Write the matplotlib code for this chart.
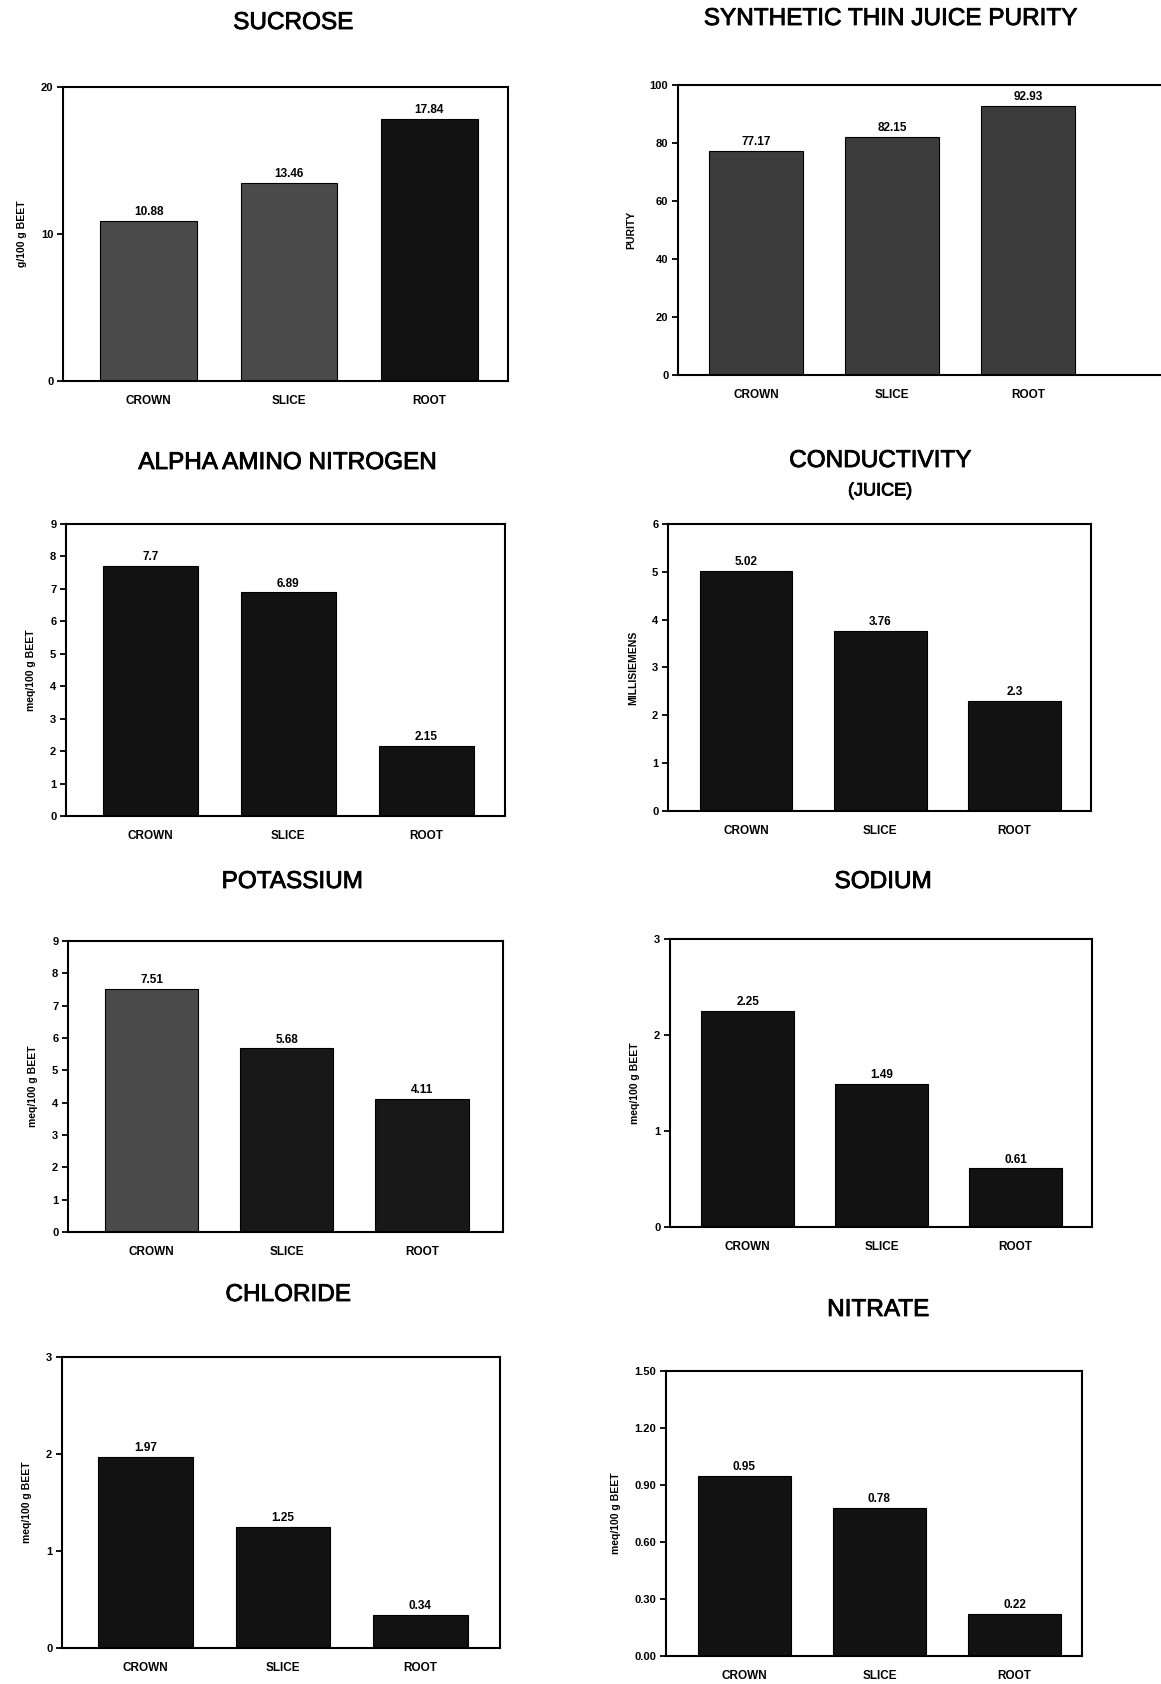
import matplotlib
matplotlib.use('Agg')
import matplotlib.pyplot as plt
import matplotlib.patheffects as pe

plt.rcParams['font.family'] = ['Liberation Sans', 'DejaVu Sans']

# beet sections
sections = ['CROWN', 'SLICE', 'ROOT']

# mean values per section
sucrose = [10.88, 13.46, 17.84]
purity = [77.17, 82.15, 92.93]
alpha_amino_n = [7.7, 6.89, 2.15]
conductivity = [5.02, 3.76, 2.3]
potassium = [7.51, 5.68, 4.11]
sodium = [2.25, 1.49, 0.61]
chloride = [1.97, 1.25, 0.34]
nitrate = [0.95, 0.78, 0.22]

# y-axis ticks
ticks_sucrose = [0, 10, 20]
ticks_purity = [0, 20, 40, 60, 80, 100]
ticks_nine = list(range(10))
ticks_six = list(range(7))
ticks_three = [0, 1, 2, 3]
ticks_nitrate = [0.0, 0.3, 0.6, 0.9, 1.2, 1.5]
labels_nitrate = ['0.00', '0.30', '0.60', '0.90', '1.20', '1.50']

W, H = 1161, 1684
fig = plt.figure(figsize=(W / 100, H / 100), dpi=100)

GRAY = '#4b4b4b'
DARK = '#3c3c3c'
BLACK = '#121212'
thick = [pe.withStroke(linewidth=0.6, foreground='black')]


def panel(box, xlim, values, ticks, ylabel, colors, title, title_xy,
          ticklabels=None, subtitle=None):
    l, t, r, b = box
    ax = fig.add_axes([l / W, 1 - b / H, (r - l) / W, (b - t) / H])
    x = range(len(sections))
    ax.bar(x, values, width=0.69, color=colors, edgecolor='black', linewidth=0.8)
    for xi, v in zip(x, values):
        ax.annotate(f'{v:g}', (xi, v), xytext=(0, 2), textcoords='offset points',
                    ha='center', va='bottom', fontsize=8.5, fontweight='bold')
    ax.set_xlim(*xlim)
    ax.set_ylim(ticks[0], ticks[-1])
    ax.set_xticks(list(x))
    ax.set_xticklabels(sections, fontsize=8.5, fontweight='bold')
    ax.set_yticks(ticks)
    if ticklabels is not None:
        ax.set_yticklabels(ticklabels)
    ax.tick_params(axis='x', length=0, pad=10)
    ax.tick_params(axis='y', direction='out', length=4, width=1.3, pad=3,
                   labelsize=8)
    for lab in ax.get_yticklabels():
        lab.set_fontweight('bold')
    for s in ax.spines.values():
        s.set_linewidth(1.5)
    ax.set_ylabel(ylabel, fontsize=7.5, fontweight='bold', labelpad=10)
    fig.text(title_xy[0] / W, 1 - title_xy[1] / H, title, ha='center',
             va='center', fontsize=17.5, path_effects=thick)
    if subtitle:
        fig.text(title_xy[0] / W, 1 - (title_xy[1] + 30) / H, subtitle,
                 ha='center', va='center', fontsize=13, path_effects=thick)
    return ax


panel((63, 87, 508, 381), (-0.61, 2.56), sucrose, ticks_sucrose,
      'g/100 g BEET', [GRAY, GRAY, BLACK], 'SUCROSE', (293, 23))
panel((678, 85, 1175, 375), (-0.574, 3.08), purity, ticks_purity,
      'PURITY', [DARK, DARK, DARK], 'SYNTHETIC THIN JUICE PURITY', (890, 19))
panel((66, 524, 505, 816), (-0.61, 2.57), alpha_amino_n, ticks_nine,
      'meq/100 g BEET', [BLACK] * 3, 'ALPHA AMINO NITROGEN', (287, 463))
panel((668, 524, 1091, 811), (-0.58, 2.57), conductivity, ticks_six,
      'MILLISIEMENS', [BLACK] * 3, 'CONDUCTIVITY', (880, 461),
      subtitle='(JUICE)')
panel((68, 941, 503, 1232), (-0.62, 2.6), potassium, ticks_nine,
      'meq/100 g BEET', [GRAY, '#181818', '#181818'], 'POTASSIUM', (292, 882))
panel((670, 939, 1092, 1227), (-0.58, 2.57), sodium, ticks_three,
      'meq/100 g BEET', [BLACK] * 3, 'SODIUM', (883, 882))
panel((62, 1357, 500, 1648), (-0.61, 2.58), chloride, ticks_three,
      'meq/100 g BEET', [BLACK] * 3, 'CHLORIDE', (288, 1295))
panel((666, 1371, 1082, 1656), (-0.58, 2.5), nitrate, ticks_nitrate,
      'meq/100 g BEET', [BLACK] * 3, 'NITRATE', (878, 1310),
      ticklabels=labels_nitrate)

fig.savefig('out.png', dpi=100)
